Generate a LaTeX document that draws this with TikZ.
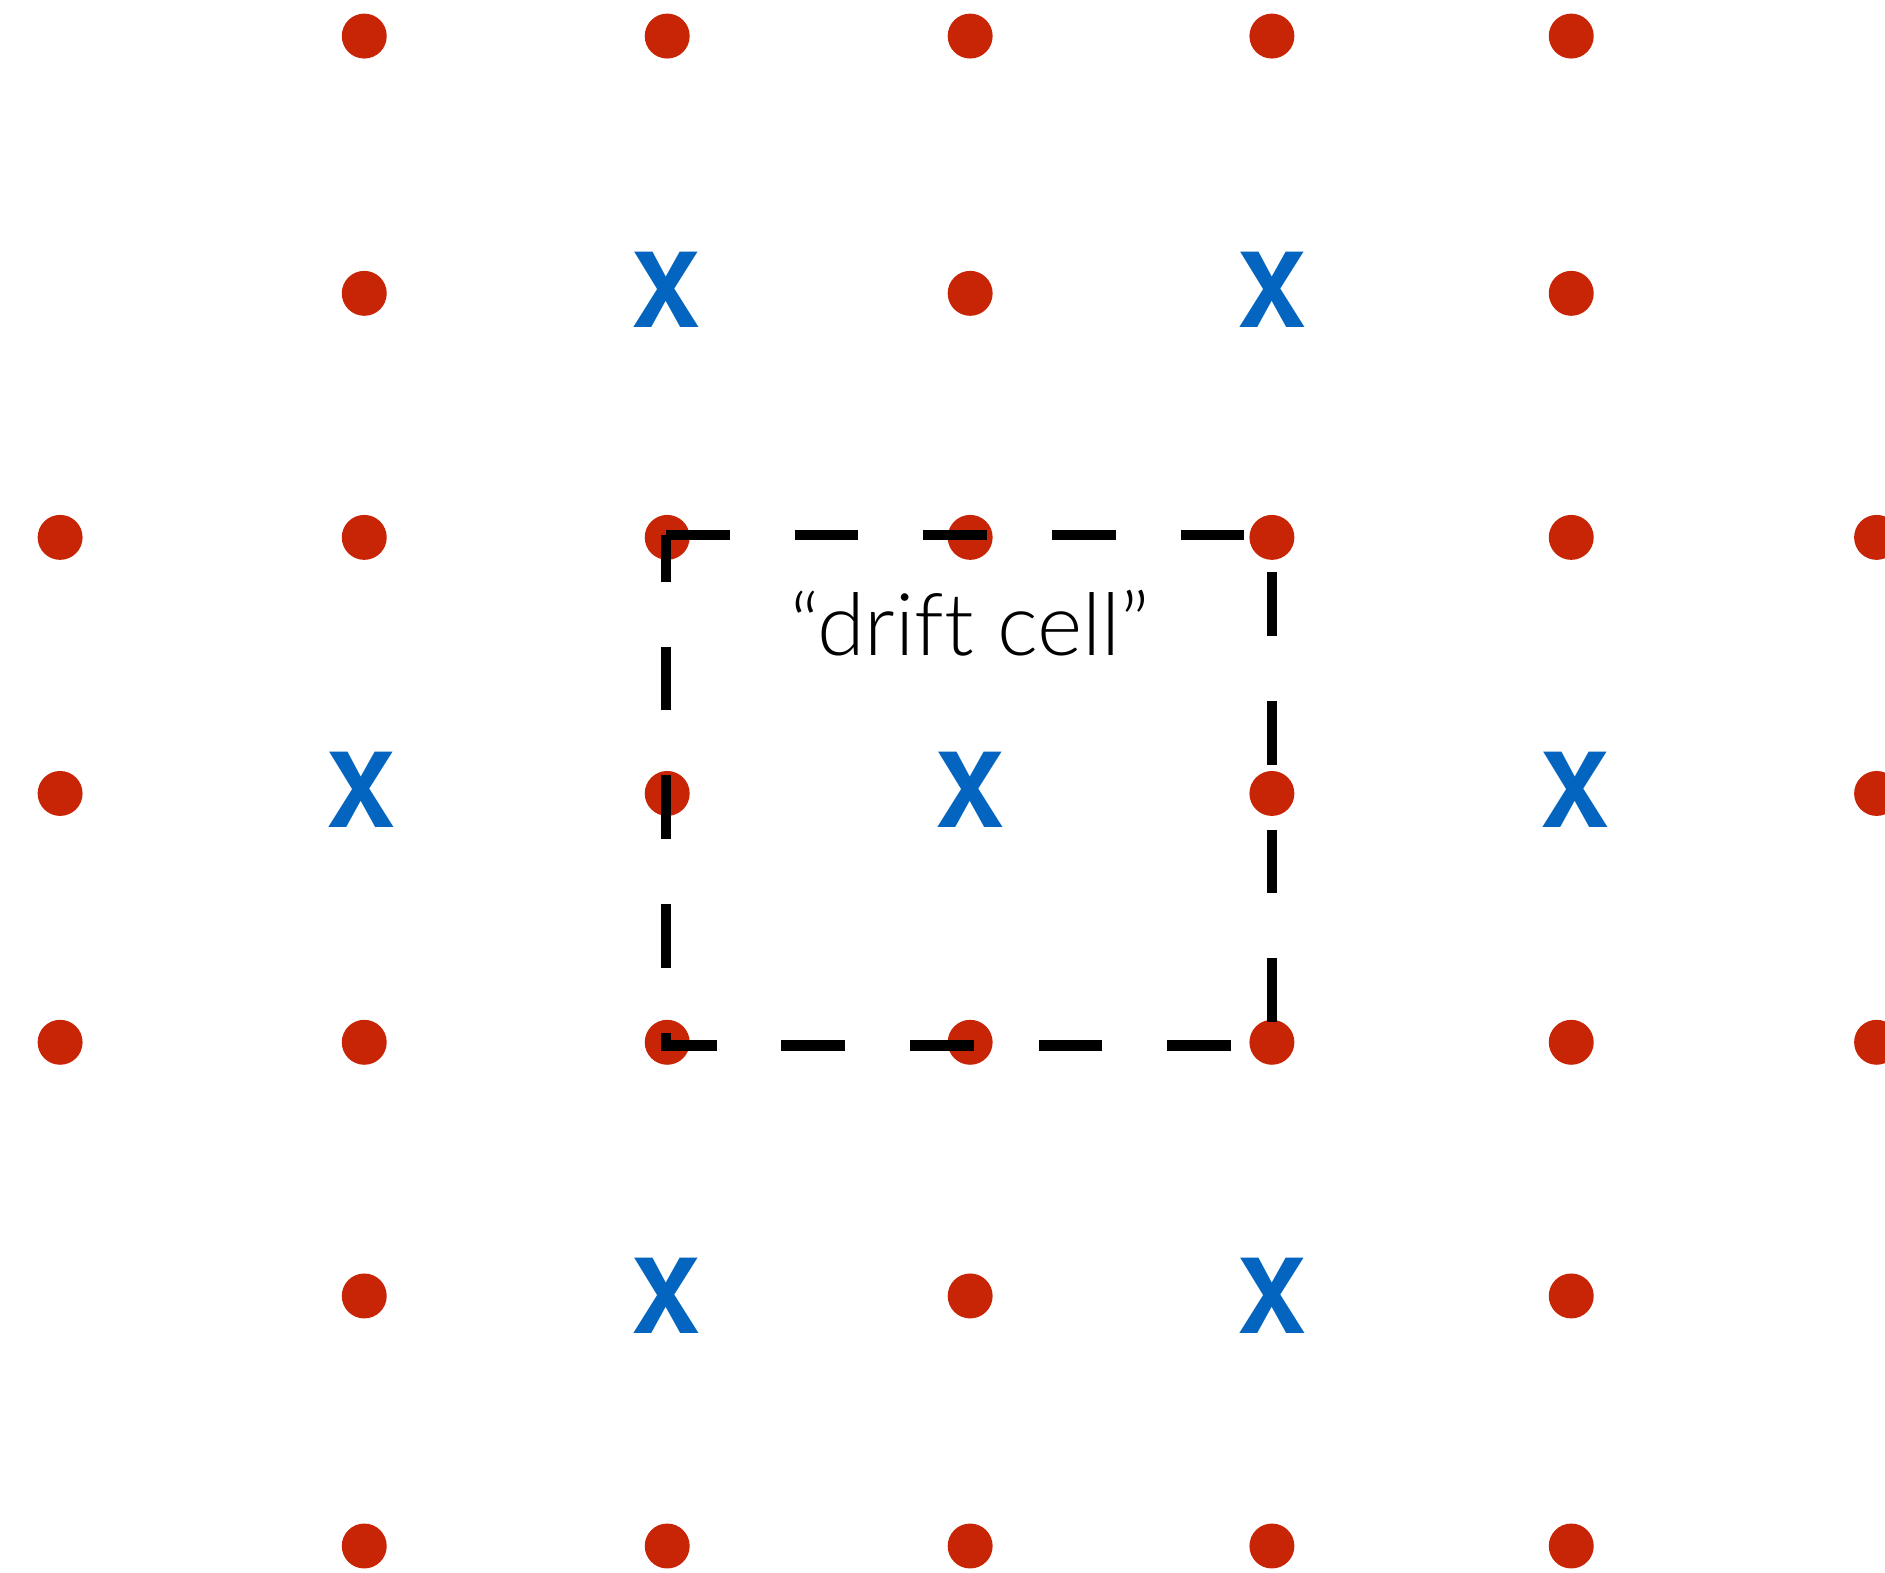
\documentclass[tikz,border=0pt]{standalone}
\usepackage{fontspec}
\setmainfont{TeX Gyre Heros}
\newfontfamily\celllabelfont{Lato}[UprightFont=* Light, Ligatures={NoCommon}]
\usetikzlibrary{positioning}
\definecolor{siteRed}{RGB}{200,37,6}
\definecolor{xBlue}{RGB}{3,101,192}

\begin{document}
\begin{tikzpicture}[
    x=0.5pt, y=-0.5pt,
    site/.style={circle, fill=siteRed, inner sep=0pt, minimum size=18.7pt},
    xsite/.style={inner sep=0pt, text=xBlue, font=\fontsize{43}{43}\selectfont\bfseries},
    cellline/.style={line width=4.5pt, dash pattern=on 26.5pt off 27pt}
]
\useasboundingbox (0,0) rectangle (1568,1308);

% Red sites, full rows
\foreach \x [count=\n] in {50,303,555,807,1058,1307,1561} {
    \node[site] (s3-\n) at (\x,447) {};
    \node[site] (s5-\n) at (\x,867) {};
}
% Top and bottom rows
\foreach \x/\n in {303/2,555/3,807/4,1058/5,1307/6} {
    \node[site] (s1-\n) at (\x,30) {};
    \node[site] (s7-\n) at (\x,1286) {};
}
% Mixed rows
\foreach \x/\n in {303/2,807/4,1307/6} {
    \node[site] (s2-\n) at (\x,244) {};
    \node[site] (s6-\n) at (\x,1078) {};
}
\foreach \x/\n in {50/1,555/3,1058/5,1561/7}
    \node[site] (s4-\n) at (\x,660) {};

% Blue X sites
\foreach \x/\n in {554/3,1058/5} {
    \node[xsite] (x2-\n) at (\x,241) {X};
    \node[xsite] (x6-\n) at (\x,1078) {X};
}
\foreach \x/\n in {300/2,807/4,1310/6}
    \node[xsite] (x4-\n) at (\x,657) {X};

% Drift cell
\coordinate (cellnw) at (554,445);
\coordinate (cellne) at (1058,445);
\coordinate (cellse) at (1058,870);
\coordinate (cellsw) at (554,870);
\draw[cellline] (cellnw) -- (cellne) -- (cellse) -- (cellsw) -- cycle;

\node[anchor=base, inner sep=0pt, font=\celllabelfont\fontsize{36}{36}\selectfont] (celllabel) at (807,545) {“drift cell”};

\end{tikzpicture}
\end{document}
